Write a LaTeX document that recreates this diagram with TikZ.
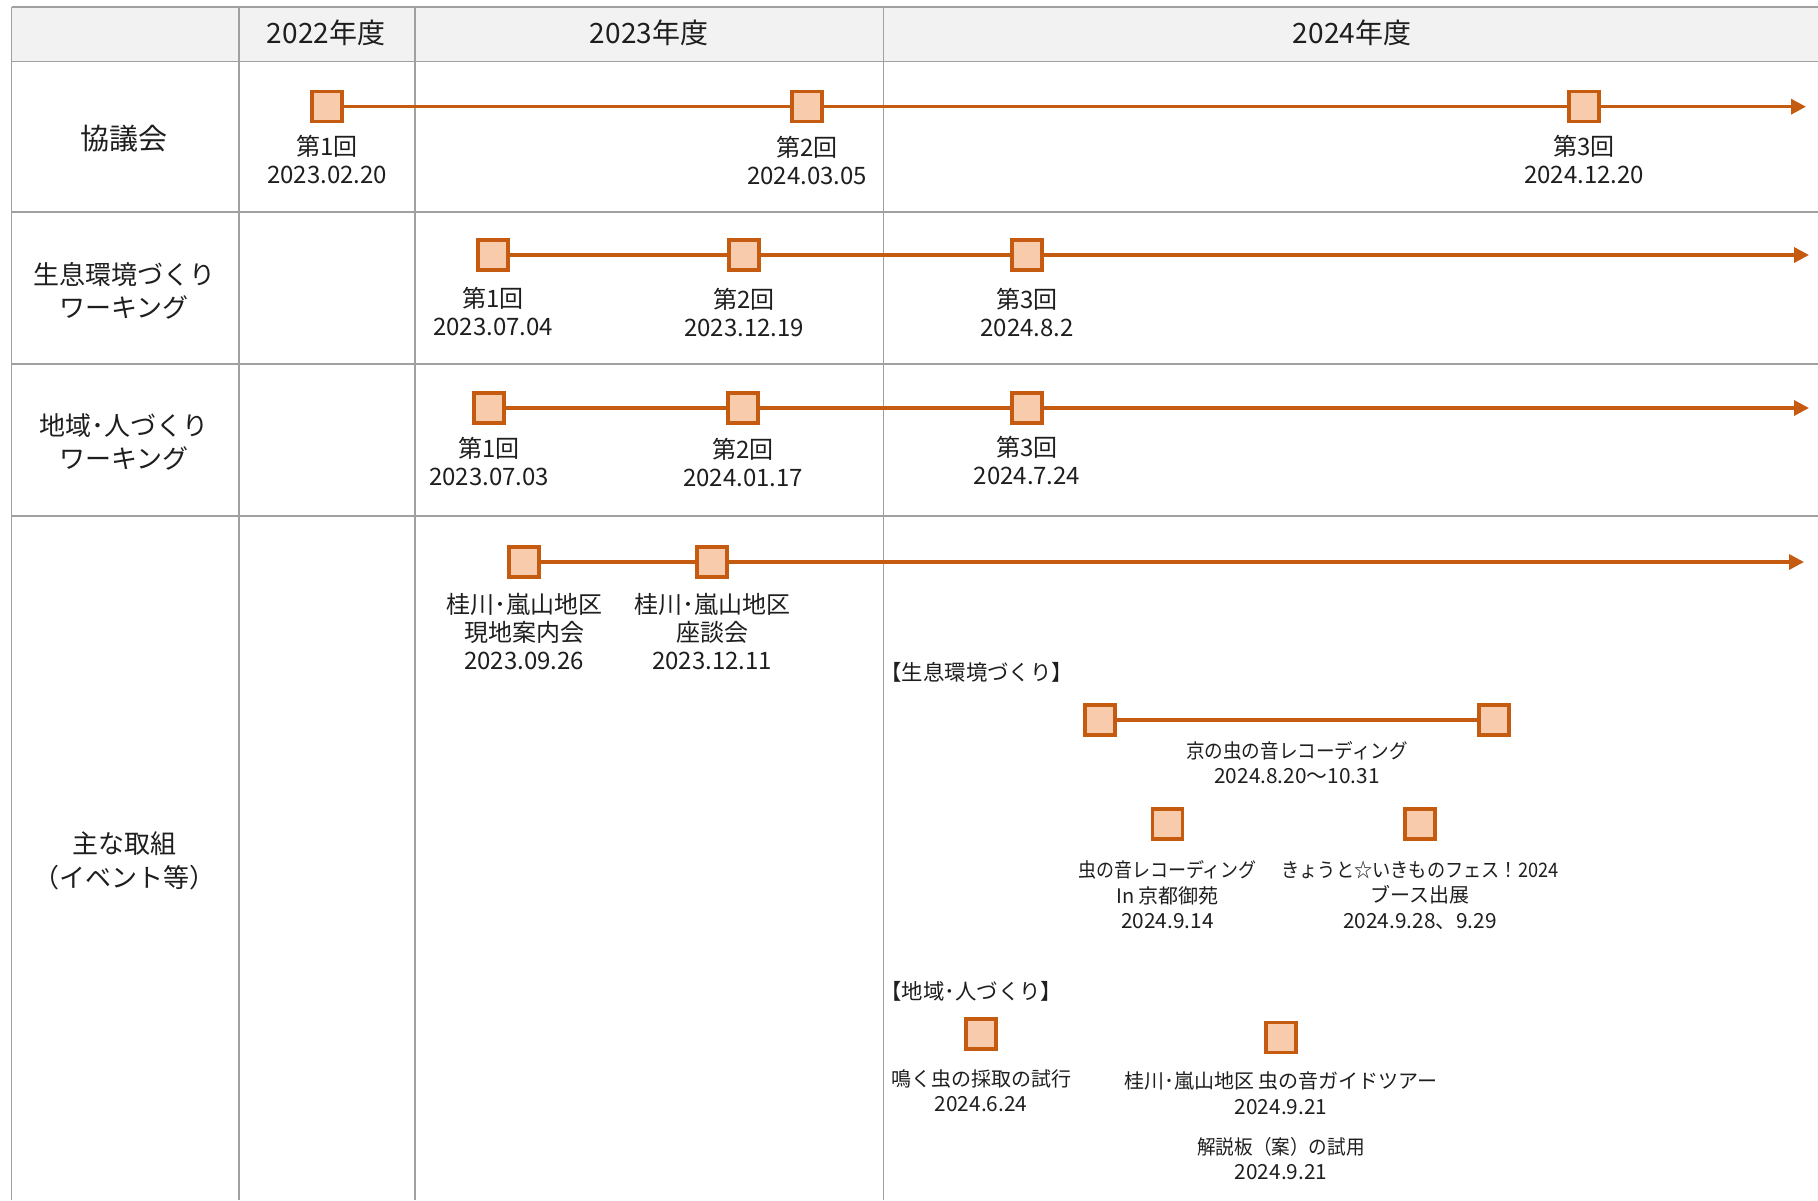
\documentclass[tikz,border=0pt]{standalone}
\usepackage{fontspec}
\usepackage{graphicx}
\setmainfont{Noto Sans CJK JP}
\usetikzlibrary{arrows.meta}
\definecolor{orl}{HTML}{C55A11}
\definecolor{orf}{HTML}{F8CBAD}
\definecolor{gridc}{HTML}{A0A0A0}
\definecolor{hdrbg}{HTML}{F2F2F2}
\definecolor{txt}{HTML}{1E1E1E}
\newcommand{\sqz}[2]{\scalebox{#1}[1]{#2}}
\newcommand{\smdate}[1]{{\fontsize{10.4}{12.75}\selectfont #1}}
\begin{document}
\begin{tikzpicture}[x=0.5pt,y=-0.5pt,
  evbox/.style={draw=orl,fill=orf,line width=1.6pt,minimum width=15pt,minimum height=15pt,inner sep=0pt},
  tline/.style={draw=orl,line width=1.7pt},
  tarrow/.style={tline,-{Triangle[length=7.5pt,width=7.5pt]}},
  gridline/.style={draw=gridc,line width=0.8pt},
  hdrtext/.style={text=txt,font=\fontsize{14}{17}\selectfont,inner sep=0pt},
  rowtext/.style={text=txt,font=\fontsize{13}{16.8}\selectfont,align=center,inner sep=0pt},
  lbl/.style={text=txt,font=\fontsize{12}{14}\selectfont,align=center,inner sep=0pt,anchor=north},
  sml/.style={text=txt,font=\fontsize{10}{12.75}\selectfont,align=center,inner sep=0pt,anchor=north},
  sect/.style={text=txt,font=\fontsize{10.7}{12.75}\selectfont,inner sep=0pt,anchor=west}]
\useasboundingbox (0,0) rectangle (1818,1200);
% header background
\fill[hdrbg] (11.6,7) rectangle (1818,61.5);
% grid
\foreach \yy in {7,61.5,212,364,516}{\draw[gridline] (11.6,\yy) -- (1818,\yy);}
\foreach \xx in {11.6,238.8,415,883.5}{\draw[gridline] (\xx,7) -- (\xx,1200);}
% header texts
\node[hdrtext] (h22) at (326,32.5) {2022年度};
\node[hdrtext] (h23) at (649,32.5) {2023年度};
\node[hdrtext] (h24) at (1352,32.5) {2024年度};
% row headers
\node[rowtext,font=\fontsize{14.5}{17}\selectfont] (r1) at (124,139) {協議会};
\node[rowtext] (r2) at (124,291) {生息環境づくり\\ワーキング};
\node[rowtext] (r3) at (124,442) {地域･人づくり\\ワーキング};
\node[rowtext] (r4) at (124,861) {主な取組\\（イベント等）};
% row 1
\coordinate (e1) at (1806,106.7);
\node[evbox] (b11) at (327,106.7) {};
\node[evbox] (b12) at (807,106.7) {};
\node[evbox] (b13) at (1584,106.7) {};
\draw[tline] (b11) -- (b12);
\draw[tline] (b12) -- (b13);
\draw[tarrow] (b13) -- (e1);
\node[lbl] (l11) at (327,135) {第1回\\2023.02.20};
\node[lbl] (l12) at (807,136) {第2回\\2024.03.05};
\node[lbl] (l13) at (1584,134.5) {第3回\\2024.12.20};
% row 2
\coordinate (e2) at (1809,255);
\node[evbox] (b21) at (493,255) {};
\node[evbox] (b22) at (744,255) {};
\node[evbox] (b23) at (1027,255) {};
\draw[tline] (b21) -- (b22);
\draw[tline] (b22) -- (b23);
\draw[tarrow] (b23) -- (e2);
\node[lbl] (l21) at (493,287) {第1回\\2023.07.04};
\node[lbl] (l22) at (744,288) {第2回\\2023.12.19};
\node[lbl] (l23) at (1027,288) {第3回\\2024.8.2};
% row 3
\coordinate (e3) at (1809,408);
\node[evbox] (b31) at (489,408) {};
\node[evbox] (b32) at (743,408) {};
\node[evbox] (b33) at (1027,408) {};
\draw[tline] (b31) -- (b32);
\draw[tline] (b32) -- (b33);
\draw[tarrow] (b33) -- (e3);
\node[lbl] (l31) at (489,437) {第1回\\2023.07.03};
\node[lbl] (l32) at (743,438) {第2回\\2024.01.17};
\node[lbl] (l33) at (1027,436) {第3回\\2024.7.24};
% row 4
\coordinate (e4) at (1804,562);
\node[evbox] (b41) at (524,562) {};
\node[evbox] (b42) at (712,562) {};
\draw[tline] (b41) -- (b42);
\draw[tarrow] (b42) -- (e4);
\node[lbl] (l41) at (524,593) {桂川･嵐山地区\\現地案内会\\2023.09.26};
\node[lbl] (l42) at (712,593) {桂川･嵐山地区\\座談会\\2023.12.11};
% section 1
\node[sect] (sec1) at (880,672.5) {【生息環境づくり】};
\node[evbox] (ra) at (1100,720) {};
\node[evbox] (rb) at (1494,720) {};
\draw[tline] (ra) -- (rb);
\node[sml] (lr) at (1297,741) {\sqz{0.93}{京の虫の音レコーディング}\\\smdate{2024.8.20～10.31}};
\node[evbox] (s1) at (1167.5,824) {};
\node[sml] (ls1) at (1167.5,860.5) {\sqz{0.9}{虫の音レコーディング}\\In 京都御苑\\\smdate{2024.9.14}};
\node[evbox] (s2) at (1420,824) {};
\node[sml] (ls2) at (1420,860.5) {\sqz{0.91}{きょうと☆いきものフェス！2024}\\ブース出展\\\smdate{2024.9.28、9.29}};
% section 2
\node[sect] (sec2) at (880,991) {【地域･人づくり】};
\node[evbox] (t1) at (981,1034) {};
\node[sml] (lt1) at (981,1069) {鳴く虫の採取の試行\\\smdate{2024.6.24}};
\node[evbox] (t2) at (1281,1037.7) {};
\node[sml] (lt2) at (1281,1071.6) {桂川･嵐山地区 虫の音ガイドツアー\\\smdate{2024.9.21}};
\node[sml] (lt3) at (1281,1136.5) {\sqz{0.93}{解説板（案）の試用}\\\smdate{2024.9.21}};
\end{tikzpicture}
\end{document}
